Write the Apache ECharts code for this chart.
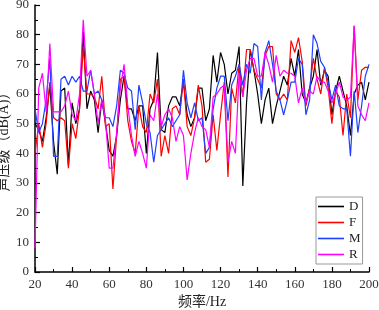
<!DOCTYPE html>
<html>
<head>
<meta charset="utf-8">
<script src="https://cdn.jsdelivr.net/npm/echarts@6/dist/echarts.min.js"></script>
<style>
  html, body { margin: 0; padding: 0; background: #fff; }
  #main { width: 379px; height: 310px; }
</style>
</head>
<body>
<div id="main"></div>
<script>
// 频率 20~200 Hz，步长 2 Hz
var freqs = [];
for (var f = 20; f <= 200; f += 2) freqs.push(f);

var seriesNames = ["D", "F", "M", "R"];
var colors = ["#000000", "#ff0000", "#1f3fff", "#ff00ff"];

var dataD = [50, 48, 44, 52, 63, 44, 33, 61, 62, 36, 57, 50, 55, 81,
  55, 61, 58, 47, 58, 50, 41, 39, 46, 58, 66, 55,
  55, 51, 56, 56, 40, 55, 58, 74, 48, 47, 56, 59, 59,
  56, 64, 53, 49, 52, 62, 62, 51, 55, 73, 64, 74,
  70, 60, 67, 68, 76, 29, 57, 75, 68, 60, 50, 58, 62,
  50, 56, 61, 66, 63, 72, 66, 75, 60, 57, 62, 66, 75,
  63, 68, 66, 53, 61, 66, 61, 56, 46, 60, 63, 64, 58, 64];
var dataF = [40, 50, 42, 50, 64, 52, 51, 52, 51, 35, 50, 45, 55, 76,
  60, 60, 59, 55, 66, 49, 50, 28, 46, 65, 66, 51,
  44, 40, 56, 49, 47, 60, 57, 65, 39, 46, 40, 55, 56,
  53, 65, 49, 46, 52, 63, 56, 37, 38, 53, 41, 53,
  64, 32, 62, 57, 70, 59, 75, 75, 68, 65, 62, 73, 76,
  76, 60, 58, 60, 58, 78, 74, 79, 71, 56, 62, 72, 65,
  60, 69, 62, 50, 61, 59, 46, 60, 52, 83, 58, 68, 69, 69];
var dataM = [55, 47, 50, 58, 72, 39, 39, 65, 66, 63, 66, 64, 66, 61,
  61, 68, 60, 61, 58, 52, 52, 49, 56, 68, 67, 62,
  61, 48, 63, 57, 50, 47, 37, 46, 48, 50, 52, 49, 51,
  53, 68, 57, 52, 57, 51, 52, 40, 42, 55, 62, 66,
  66, 51, 63, 66, 70, 63, 70, 67, 77, 76, 58, 74, 78,
  70, 61, 58, 53, 58, 64, 64, 72, 70, 53, 58, 80, 77,
  71, 69, 64, 58, 63, 56, 55, 55, 39, 61, 47, 56, 66, 70];
var dataR = [8, 62, 67, 54, 77, 54, 54, 54, 56, 61, 53, 51, 60, 85,
  66, 68, 60, 50, 58, 51, 35, 35, 47, 62, 70, 56,
  46, 39, 44, 40, 35, 53, 51, 60, 49, 53, 55, 52, 44,
  49, 46, 31, 40, 47, 52, 49, 48, 42, 59, 60, 62,
  63, 37, 44, 40, 67, 59, 68, 72, 72, 66, 66, 74, 70,
  64, 73, 66, 68, 67, 67, 66, 57, 62, 57, 61, 60, 66,
  64, 64, 61, 57, 60, 64, 59, 58, 59, 83, 56, 53, 51, 57];

var xTicks = [20, 40, 60, 80, 100, 120, 140, 160, 180, 200];
var yTicks = [0, 10, 20, 30, 40, 50, 60, 70, 80, 90];

var allData = [dataD, dataF, dataM, dataR];

var serifFont = "'Liberation Serif', 'DejaVu Serif', serif";
var cjkFont = "'Liberation Serif', 'Noto Sans CJK SC', serif";

var myChart = echarts.init(document.getElementById("main"));

var series = seriesNames.map(function (name, i) {
  return {
    name: name,
    type: "line",
    showSymbol: false,
    symbol: "none",
    lineStyle: { width: 1.2, color: colors[i] },
    itemStyle: { color: colors[i] },
    data: freqs.map(function (x, k) { return [x, allData[i][k]]; })
  };
});

myChart.setOption({
  animation: false,
  color: colors,
  grid: { left: 35, right: 10, top: 5, bottom: 38, containLabel: false, outerBoundsMode: "none" },
  legend: {
    orient: "vertical",
    left: 316,
    top: 197,
    padding: [3, 2, 3, 2],
    itemGap: 3,
    itemWidth: 26,
    itemHeight: 11,
    borderColor: "#999",
    borderWidth: 1,
    backgroundColor: "#fff",
    textStyle: { fontFamily: serifFont, fontSize: 13, lineHeight: 12, color: "#222" },
    icon: "path://M0,5 L26,5 L26,6.6 L0,6.6 Z",
    data: seriesNames
  },
  xAxis: {
    type: "value",
    min: 20,
    max: 200,
    interval: 20,
    name: "频率/Hz",
    nameLocation: "middle",
    nameGap: 23,
    nameMoveOverlap: false,
    nameTextStyle: { fontFamily: cjkFont, fontSize: 14, color: "#222" },
    axisLine: { show: true, onZero: false, lineStyle: { color: "#000", width: 1.5 } },
    axisTick: { show: true, inside: true, length: 5, lineStyle: { color: "#000", width: 1.2 } },
    minorTick: { show: true, splitNumber: 2, length: 3, lineStyle: { color: "#000", width: 1 } },
    axisLabel: {
      fontFamily: serifFont, fontSize: 13, color: "#333", margin: 6,
      formatter: function (v) { return xTicks.indexOf(v) >= 0 ? String(v) : ""; }
    },
    splitLine: { show: false }
  },
  yAxis: {
    type: "value",
    min: 0,
    max: 90,
    interval: 10,
    name: "声压级（dB(A)）",
    nameLocation: "middle",
    nameGap: 24,
    nameRotate: 90,
    nameMoveOverlap: false,
    nameTextStyle: { fontFamily: cjkFont, fontSize: 14, color: "#222" },
    axisLine: { show: true, lineStyle: { color: "#000", width: 1.5 } },
    axisTick: { show: true, inside: true, length: 5, lineStyle: { color: "#000", width: 1.2 } },
    minorTick: { show: true, splitNumber: 2, length: 3, lineStyle: { color: "#000", width: 1 } },
    axisLabel: {
      fontFamily: serifFont, fontSize: 13, color: "#333", margin: 6,
      formatter: function (v) { return yTicks.indexOf(v) >= 0 ? String(v) : ""; }
    },
    splitLine: { show: false }
  },
  series: series
});
</script>
</body>
</html>
